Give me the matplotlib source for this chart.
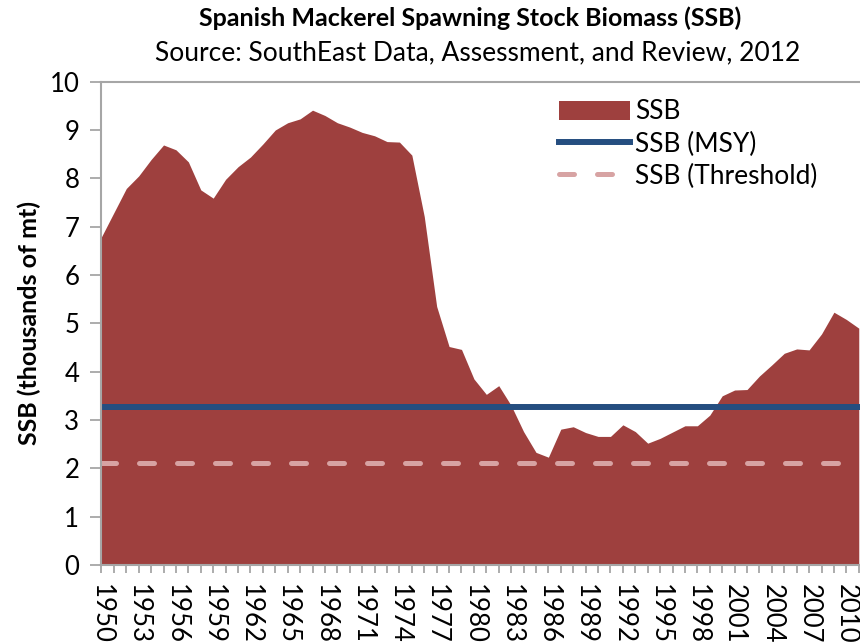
import numpy as np
import matplotlib.pyplot as plt

# Spanish mackerel spawning stock biomass, thousands of metric tons
years = np.arange(1950, 2012)
ssb = [6.79, 7.29, 7.79, 8.05, 8.39, 8.69, 8.59, 8.34, 7.76, 7.59,
       7.98, 8.24, 8.44, 8.71, 9.00, 9.15, 9.23, 9.41, 9.30, 9.15,
       9.06, 8.95, 8.88, 8.76, 8.75, 8.48, 7.21, 5.35, 4.52, 4.46,
       3.85, 3.53, 3.71, 3.30, 2.76, 2.33, 2.23, 2.81, 2.86, 2.74,
       2.66, 2.66, 2.90, 2.76, 2.52, 2.62, 2.75, 2.88, 2.88, 3.10,
       3.50, 3.62, 3.63, 3.91, 4.14, 4.38, 4.47, 4.45, 4.78, 5.23,
       5.08, 4.90]
ssb_msy = 3.26
ssb_threshold = 2.12
tick_years = np.arange(1950, 2012, 3)

plt.rcParams['font.family'] = ['Lato', 'DejaVu Sans']

fig = plt.figure(figsize=(8.6, 6.44), dpi=100)
ax = fig.add_axes([0.118, 0.1227, 0.882, 0.7505])

ax.fill_between(years, ssb, 0, color='#9E403E', linewidth=0, label='SSB')
ax.axhline(ssb_msy, color='#254E80', linewidth=4.3, label='SSB (MSY)')
ax.axhline(ssb_threshold, color='#D7A3A3', linewidth=3.6, dashes=(3, 4.6),
           dash_capstyle='round', label='SSB (Threshold)')

ax.set_xlim(1950, 2011.1)
ax.set_ylim(0, 10)
ax.set_yticks(range(0, 11))
ax.set_xticks(tick_years)
ax.set_xticks(years, minor=True)
ax.set_xticklabels([str(y) for y in tick_years], rotation=-90, va='top')

grey = '#A6A6A6'
for side in ['left', 'bottom', 'top']:
    ax.spines[side].set_color(grey)
    ax.spines[side].set_linewidth(1.5)
ax.spines['right'].set_visible(False)
ax.tick_params(axis='y', which='major', length=8, width=1.3, color=grey,
               labelsize=18.5, pad=8)
ax.tick_params(axis='x', which='both', length=6, width=1.3, color=grey,
               labelsize=18.5, pad=8)

ax.set_ylabel('SSB (thousands of mt)', fontsize=18, fontweight='bold', labelpad=6)

fig.text(0.547, 0.971, 'Spanish Mackerel Spawning Stock Biomass (SSB)',
         ha='center', va='center', fontsize=18, fontweight='bold')
fig.text(0.555, 0.918, 'Source: SouthEast Data, Assessment, and Review, 2012',
         ha='center', va='center', fontsize=19)

ax.legend(loc='upper left', bbox_to_anchor=(0.589, 0.985), frameon=False,
          fontsize=19, handlelength=2.7, handleheight=0.75,
          handletextpad=0.2, labelspacing=0.27, borderaxespad=0)

fig.savefig('out.png', dpi=100)
